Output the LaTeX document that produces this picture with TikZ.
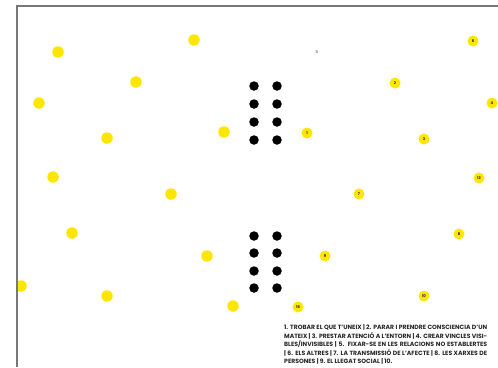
\documentclass[tikz,border=0pt]{standalone}
\usepackage{fontspec}
\setmainfont{Poppins}
\definecolor{dotyellow}{RGB}{255,230,0}
\definecolor{framegray}{RGB}{120,120,120}
\tikzset{
  ydot/.style={circle,fill=dotyellow,inner sep=0pt,minimum size=11.5pt},
  ldot/.style={circle,fill=dotyellow,inner sep=0pt,minimum size=11pt,font=\fontsize{3.8}{4}\selectfont\bfseries,text=black!85},
  bdot/.style={circle,fill=black,inner sep=0pt,minimum size=9.5pt},
  txtline/.style={anchor=west,inner sep=0pt,font=\fontsize{6.1}{7}\selectfont\bfseries,text=black!85},
}
\newcommand{\jline}[1]{\makebox[203pt][s]{#1}}
\begin{document}
\begin{tikzpicture}[x=1pt,y=-1pt]
\useasboundingbox (0,0) rectangle (498,367);
\begin{scope}
\clip (17,0) rectangle (498,367);
% unlabelled yellow dots
\node[ydot] (y1) at (58,52) {};
\node[ydot] (y2) at (194,40) {};
\node[ydot] (y3) at (136,82) {};
\node[ydot] (y4) at (39,103) {};
\node[ydot] (y5) at (107,138) {};
\node[ydot] (y6) at (224,132) {};
\node[ydot] (y7) at (53,177) {};
\node[ydot] (y8) at (171,194) {};
\node[ydot] (y9) at (72,233) {};
\node[ydot] (y10) at (207,256) {};
\node[ydot] (y11) at (21,286) {};
\node[ydot] (y12) at (107,296) {};
\node[ydot] (y13) at (233,306) {};
% labelled yellow dots
\node[ldot] (n1) at (307,133) {1};
\node[ldot] (n2) at (395,83) {2};
\node[ldot] (n3) at (424,139) {3};
\node[ldot] (n4) at (492,103) {4};
\node[ldot] (n6) at (473,41) {6};
\node[ldot] (n7) at (359,194) {7};
\node[ldot] (n8) at (459,234) {8};
\node[ldot] (n9) at (325,256) {9};
\node[ldot] (n10) at (424,296) {10};
\node[ldot] (n12) at (479,178) {12};
\node[ldot] (n16) at (298,307) {16};
\end{scope}
\node[inner sep=0pt,font=\fontsize{4}{4}\selectfont,text=black!75] (n5) at (317,52) {5};
% black dots
\foreach \r/\yy in {1/86,2/104,3/122,4/140}{
  \node[bdot] (ta\r) at (254,\yy) {};
  \node[bdot] (tb\r) at (277,\yy) {};
}
\foreach \r/\yy in {1/236,2/253,3/271,4/288}{
  \node[bdot] (ba\r) at (254,\yy) {};
  \node[bdot] (bb\r) at (277,\yy) {};
}
% frame
\draw[framegray,line width=1.2pt] (17,367) -- (17,6) -- (498,6);
% caption
\node[txtline] (c1) at (284,327.5) {\jline{1. TROBAR EL QUE T'UNEIX | 2. PARAR I PRENDRE CONSCIENCIA D'UN}};
\node[txtline] (c2) at (284,336) {\jline{MATEIX | 3. PRESTAR ATENCIÓ A L'ENTORN | 4. CREAR VINCLES VISI-}};
\node[txtline] (c3) at (284,344.5) {\jline{BLES/INVISIBLES | 5. FIXAR-SE EN LES RELACIONS NO ESTABLERTES}};
\node[txtline] (c4) at (284,353) {\jline{| 6. ELS ALTRES | 7. LA TRANSMISSIÓ DE L'AFECTE | 8. LES XARXES DE}};
\node[txtline] (c5) at (284,361.5) {PERSONES | 9. EL LLEGAT SOCIAL | 10.};
\end{tikzpicture}
\end{document}
